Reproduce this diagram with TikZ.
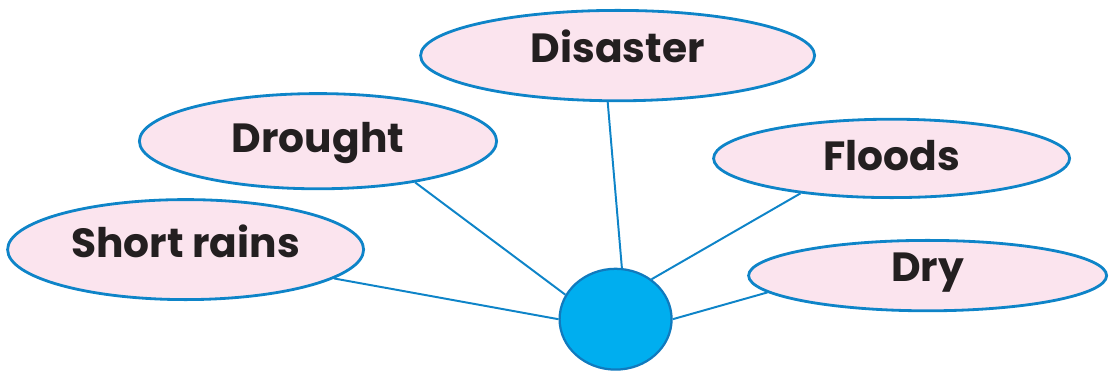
\documentclass[tikz,border=0pt]{standalone}
\usepackage{fontspec}
\setsansfont{Poppins}
\usetikzlibrary{shapes.geometric}
\definecolor{bubbleline}{RGB}{14,132,200}
\definecolor{bubblefill}{RGB}{251,228,238}
\definecolor{hubfill}{RGB}{0,174,239}
\definecolor{hubline}{RGB}{16,122,190}
\definecolor{inktext}{RGB}{35,31,32}
\begin{document}
\begin{tikzpicture}[
  bubble/.style={ellipse,draw=bubbleline,fill=bubblefill,line width=2pt,
    inner sep=0pt,text=inktext,text height=0.73cm,
    font=\sffamily\bfseries\fontsize{29}{34}\selectfont},
  spoke/.style={draw=bubbleline,line width=1.4pt}]
\useasboundingbox (0,0) rectangle (27.85,-9.3);
\node [bubble,minimum width=9.85cm,minimum height=2.26cm,text depth=0.4cm]
  (disaster) at (15.44,-1.39) {Disaster};
\node [bubble,minimum width=8.93cm,minimum height=2.38cm,text depth=0.18cm]
  (drought) at (7.95,-3.53) {Drought};
\node [bubble,minimum width=8.9cm,minimum height=2.5cm,text depth=0.35cm]
  (shortrains) at (4.64,-6.24) {Short rains};
\node [bubble,minimum width=8.9cm,minimum height=1.96cm,text depth=0.12cm]
  (floods) at (22.29,-3.96) {Floods};
\node [bubble,minimum width=8.95cm,minimum height=1.76cm,text depth=0.42cm]
  (dry) at (23.19,-6.89) {Dry};
\node [ellipse,draw=hubline,fill=hubfill,line width=1.6pt,minimum width=2.8cm,
  minimum height=2.52cm] (hub) at (15.39,-7.98) {};
\draw [spoke] (hub.83) -- (disaster.258);
\draw [spoke] (hub.154) -- (drought.337);
\draw [spoke] (hub.180) -- (shortrains.349);
\draw [spoke] (hub.48) -- (floods.201);
\draw [spoke] (hub.0) -- (dry.186);
\end{tikzpicture}
\end{document}
